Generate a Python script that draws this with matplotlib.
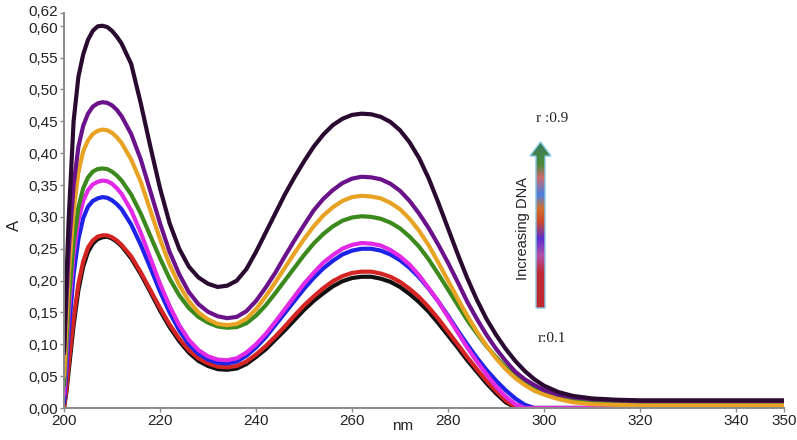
import matplotlib
matplotlib.use("Agg")
import matplotlib.pyplot as plt
import matplotlib.transforms as mtransforms
import numpy as np
from matplotlib.colors import LinearSegmentedColormap
from matplotlib.patches import Polygon

# ---------------- data ----------------
wavelength = [200, 200.5, 201, 202, 203, 204, 205, 206, 207, 208, 209, 210, 211, 212,
              214, 216, 218, 220, 222, 224, 226, 228, 230, 232, 234, 236, 238, 240,
              242, 244, 246, 248, 250, 252, 254, 256, 258, 260, 262, 264, 266, 268, 270,
              272, 274, 276, 278, 280, 282, 284, 286, 288, 290, 292, 294, 296, 298, 300,
              303, 306, 310, 315, 320, 350]

abs_black = [0.0, 0.025, 0.06, 0.13, 0.185, 0.222, 0.245, 0.258, 0.265, 0.268, 0.269, 0.266, 0.261, 0.254,
             0.235, 0.21, 0.182, 0.153, 0.127, 0.105, 0.087, 0.074, 0.066, 0.061, 0.06, 0.062, 0.069, 0.08,
             0.092, 0.107, 0.122, 0.138, 0.154, 0.168, 0.18, 0.191, 0.199, 0.204, 0.206, 0.206, 0.203, 0.198, 0.19,
             0.179, 0.166, 0.151, 0.133, 0.114, 0.095, 0.075, 0.057, 0.039, 0.023, 0.009, 0.001, 0.0, 0.0, 0.0,
             0.0, 0.0, 0.0, 0.0, 0.0, 0.0]

abs_red = [0.0, 0.03, 0.07, 0.14, 0.195, 0.23, 0.252, 0.263, 0.269, 0.271, 0.271, 0.268, 0.263, 0.256,
           0.238, 0.213, 0.185, 0.157, 0.131, 0.109, 0.091, 0.078, 0.07, 0.065, 0.064, 0.066, 0.073, 0.084,
           0.097, 0.112, 0.128, 0.145, 0.161, 0.175, 0.188, 0.199, 0.207, 0.212, 0.214, 0.214, 0.211, 0.206, 0.198,
           0.187, 0.174, 0.158, 0.14, 0.12, 0.1, 0.08, 0.061, 0.043, 0.027, 0.012, 0.002, 0.0, 0.0, 0.0,
           0.0, 0.0, 0.0, 0.0, 0.0, 0.0]

abs_blue = [0.008, 0.06, 0.12, 0.21, 0.265, 0.298, 0.316, 0.325, 0.329, 0.331, 0.33, 0.326, 0.32, 0.312,
            0.288, 0.256, 0.22, 0.183, 0.15, 0.122, 0.1, 0.085, 0.076, 0.071, 0.07, 0.073, 0.082, 0.095,
            0.111, 0.13, 0.149, 0.168, 0.187, 0.204, 0.219, 0.231, 0.241, 0.247, 0.25, 0.25, 0.247, 0.241, 0.232,
            0.22, 0.205, 0.187, 0.167, 0.145, 0.122, 0.1, 0.079, 0.06, 0.043, 0.028, 0.015, 0.005, 0.0, 0.0,
            0.0, 0.0, 0.0, 0.0, 0.0, 0.0]

abs_magenta = [0.02, 0.08, 0.15, 0.24, 0.295, 0.325, 0.342, 0.351, 0.355, 0.357, 0.356, 0.352, 0.345, 0.336,
               0.31, 0.275, 0.235, 0.195, 0.16, 0.13, 0.107, 0.091, 0.081, 0.076, 0.075, 0.078, 0.087, 0.1,
               0.116, 0.135, 0.155, 0.175, 0.195, 0.212, 0.228, 0.24, 0.25, 0.256, 0.259, 0.258, 0.255, 0.248, 0.238,
               0.225, 0.208, 0.188, 0.167, 0.143, 0.119, 0.095, 0.073, 0.053, 0.034, 0.018, 0.006, 0.0, 0.0, 0.0,
               0.0, 0.0, 0.0, 0.0, 0.0, 0.0]

abs_green = [0.035, 0.1, 0.17, 0.26, 0.315, 0.345, 0.362, 0.371, 0.375, 0.376, 0.375, 0.371, 0.365, 0.357,
             0.335, 0.305, 0.27, 0.235, 0.203, 0.177, 0.157, 0.143, 0.134, 0.128, 0.126, 0.127, 0.133, 0.145,
             0.161, 0.18, 0.2, 0.22, 0.24, 0.258, 0.273, 0.285, 0.294, 0.299, 0.301, 0.3, 0.297, 0.291, 0.282,
             0.269, 0.253, 0.233, 0.21, 0.186, 0.162, 0.138, 0.117, 0.097, 0.08, 0.064, 0.051, 0.041, 0.033, 0.027,
             0.019, 0.013, 0.009, 0.007, 0.007, 0.007]

abs_orange = [0.05, 0.13, 0.21, 0.31, 0.37, 0.403, 0.42, 0.43, 0.435, 0.437, 0.436, 0.432, 0.425, 0.416,
              0.39, 0.355, 0.31, 0.265, 0.225, 0.193, 0.168, 0.15, 0.139, 0.132, 0.13, 0.132, 0.14, 0.155,
              0.175, 0.197, 0.22, 0.243, 0.265, 0.285, 0.302, 0.315, 0.325, 0.331, 0.333, 0.332, 0.329, 0.322, 0.312,
              0.297, 0.278, 0.255, 0.228, 0.2, 0.172, 0.145, 0.12, 0.098, 0.078, 0.061, 0.047, 0.036, 0.027, 0.021,
              0.014, 0.009, 0.006, 0.005, 0.004, 0.004]

abs_purple = [0.085, 0.17, 0.25, 0.35, 0.41, 0.443, 0.462, 0.473, 0.478, 0.48, 0.479, 0.475, 0.468, 0.458,
              0.43, 0.39, 0.34, 0.29, 0.245, 0.21, 0.182, 0.163, 0.151, 0.144, 0.141, 0.143, 0.152, 0.168,
              0.189, 0.212, 0.238, 0.263, 0.287, 0.31, 0.328, 0.342, 0.353, 0.36, 0.363, 0.362, 0.359, 0.352, 0.341,
              0.325, 0.305, 0.282, 0.256, 0.228, 0.198, 0.167, 0.14, 0.115, 0.093, 0.074, 0.057, 0.045, 0.036, 0.028,
              0.021, 0.017, 0.014, 0.012, 0.011, 0.011]

abs_dark = [0.09, 0.2, 0.3, 0.45, 0.52, 0.555, 0.578, 0.592, 0.599, 0.6, 0.598, 0.592, 0.583, 0.572,
            0.54, 0.478, 0.41, 0.345, 0.29, 0.25, 0.222, 0.205, 0.195, 0.19, 0.192, 0.2, 0.218, 0.245,
            0.275, 0.305, 0.335, 0.362, 0.387, 0.41, 0.429, 0.444, 0.454, 0.46, 0.462, 0.461, 0.457, 0.449, 0.436,
            0.417, 0.392, 0.36, 0.322, 0.282, 0.242, 0.204, 0.17, 0.14, 0.115, 0.093, 0.074, 0.058, 0.045, 0.035,
            0.025, 0.019, 0.015, 0.013, 0.012, 0.012]

series = [abs_black, abs_red, abs_blue, abs_magenta, abs_green, abs_orange, abs_purple, abs_dark]
colors = ["#111111", "#d42424", "#1c22e6", "#e22ae6", "#3c8a1e", "#e8a224", "#6a128a", "#2a0a30"]

yticks = [0.00, 0.05, 0.10, 0.15, 0.20, 0.25, 0.30, 0.35, 0.40, 0.45, 0.50, 0.55, 0.60, 0.62]
xticks = [200, 220, 240, 260, 280, 300, 320, 340, 350]

# ---------------- figure ----------------
W, H = 797, 440
fig = plt.figure(figsize=(W / 100, H / 100), dpi=100)
fig.patch.set_facecolor("white")

def fx(px):
    return px / W

def fy(py):
    return 1 - py / H

ax = fig.add_axes([fx(64), fy(408), fx(784) - fx(64), fy(13) - fy(408)])
for s, c in zip(series, colors):
    ax.plot(wavelength, s, color=c, lw=3.0, solid_capstyle="round", solid_joinstyle="round")

ax.set_xlim(200, 350)
ax.set_ylim(0, 0.62)
for side in ["top", "right"]:
    ax.spines[side].set_visible(False)
for side in ["left", "bottom"]:
    ax.spines[side].set_color("#8a8a8a")
    ax.spines[side].set_linewidth(1.4)

tick_font = dict(family=["Liberation Sans", "DejaVu Sans"], size=11)
ax.set_yticks(yticks)
ax.set_yticklabels([f"{v:.2f}".replace(".", ",") for v in yticks], fontdict=tick_font)
ax.set_xticks(xticks)
ax.set_xticklabels([str(v) for v in xticks], fontdict=tick_font)
ax.tick_params(axis="both", colors="#8a8a8a", labelcolor="#222222", length=3, width=1, pad=1.5)

# nudge the two crowded top labels apart, as in the reference
ylabels = ax.get_yticklabels()
ylabels[-1].set_transform(ylabels[-1].get_transform() +
                          mtransforms.ScaledTranslation(0, 2.5 / 100, fig.dpi_scale_trans))
ylabels[-2].set_transform(ylabels[-2].get_transform() +
                          mtransforms.ScaledTranslation(0, -2.0 / 100, fig.dpi_scale_trans))

fig.text(fx(14), fy(225), "A", rotation=90, ha="center", va="center",
         fontsize=12, family=["Liberation Sans", "DejaVu Sans"], color="#222222")
fig.text(fx(403), fy(426), "nm", ha="center", va="center",
         fontsize=11, family=["Liberation Sans", "DejaVu Sans"], color="#222222")

# ---------------- gradient arrow ----------------
ax2 = fig.add_axes([fx(528), fy(310), fx(553) - fx(528), fy(140) - fy(310)])
ax2.set_xlim(528, 553)
ax2.set_ylim(310, 140)
ax2.axis("off")
cmap = LinearSegmentedColormap.from_list(
    "dna",
    [(0.0, "#c0282d"), (0.22, "#c02a35"), (0.32, "#b650a8"), (0.42, "#5a30d0"),
     (0.52, "#d04a2a"), (0.60, "#d0702e"), (0.68, "#4a80e0"), (0.78, "#d06a70"),
     (0.86, "#4a8a3a"), (1.0, "#3a7a60")])
grad = np.linspace(0, 1, 256).reshape(-1, 1)
im = ax2.imshow(grad, cmap=cmap, origin="lower", extent=[528, 553, 310, 140], aspect="auto")
arrow_pts = [(536, 308), (545, 308), (545, 156), (551, 156), (540.5, 142), (530, 156), (536, 156)]
poly = Polygon(arrow_pts, closed=True, facecolor="none", edgecolor="#86c8e6", lw=1.0)
ax2.add_patch(poly)
im.set_clip_path(poly)

fig.text(fx(523), fy(228), "Increasing DNA", rotation=90, ha="center", va="center",
         fontsize=10.5, family=["Liberation Sans", "DejaVu Sans"], color="#222222")
fig.text(fx(552), fy(118), "r :0.9", ha="center", va="center",
         fontsize=11, family=["Liberation Serif", "DejaVu Serif"], color="#222222")
fig.text(fx(552), fy(338), "r:0.1", ha="center", va="center",
         fontsize=11, family=["Liberation Serif", "DejaVu Serif"], color="#222222")

fig.savefig("out.png", dpi=100, facecolor="white")
